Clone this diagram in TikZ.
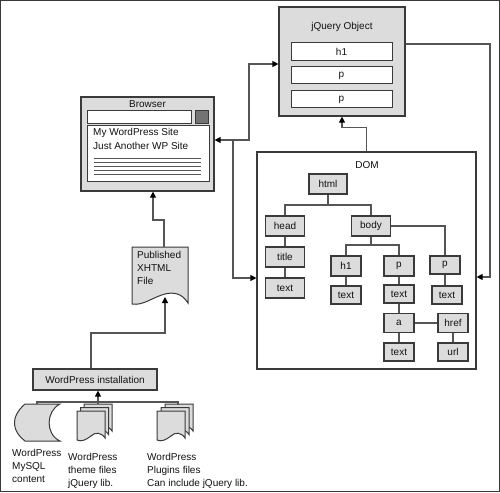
\documentclass[tikz,border=0pt]{standalone}
\usepackage{fontspec}
\setmainfont{Liberation Sans}
\usetikzlibrary{arrows.meta}
\definecolor{boxfill}{HTML}{DCDCDC}
\definecolor{edgec}{HTML}{3A3A3A}
\definecolor{linec}{HTML}{555555}
\definecolor{btnc}{HTML}{737373}
\definecolor{textc}{HTML}{111111}
\tikzset{
  conn/.style={draw=linec, line width=1.2pt},
  arr/.style={conn, -{Triangle[length=6pt,width=6pt,color=black]}},
  darr/.style={conn, {Triangle[length=6pt,width=6pt,color=black]}-{Triangle[length=6pt,width=6pt,color=black]}},
  bigbox/.style={draw=edgec, line width=1.2pt, inner sep=0pt},
  tnode/.style={draw=edgec, fill=boxfill, line width=1.4pt, inner sep=0pt, text=textc,
     font=\fontsize{10}{12}\selectfont, minimum width=#1},
  tnode/.default=30pt,
  txt/.style={inner sep=0pt, text=textc, font=\fontsize{10}{13}\selectfont},
  mltxt/.style={inner sep=0pt, text=textc, font=\fontsize{10}{13}\selectfont, align=left, anchor=north west},
  pics/wdoc/.style={code={
    \draw[draw=edgec, fill=boxfill, line width=1pt]
      (0,0) -- (28,0) -- (28,27) .. controls (24,21) and (18,21) .. (14,25)
      .. controls (9,29) and (4,31) .. (0,29) -- cycle;}},
}
\begin{document}
\begin{tikzpicture}[x=1pt,y=-1pt]
\useasboundingbox (0,0) rectangle (500,492);
\draw[draw=edgec, line width=1pt] (0.5,0.5) rectangle (499.5,491.5);

% ---------- Browser ----------
\node[bigbox, fill=boxfill, minimum width=133pt, minimum height=94pt] (browser) at (147.5,144) {};
\node[txt] (btitle) at (147.5,104) {Browser};
\node[draw=edgec, fill=white, line width=1pt, inner sep=0pt, minimum width=104pt, minimum height=12pt] (addr) at (139,117) {};
\node[draw=edgec, fill=btnc, line width=1pt, inner sep=0pt, minimum width=13pt, minimum height=12pt] (btn) at (201.5,117) {};
\node[draw=edgec, fill=white, line width=1pt, inner sep=0pt, minimum width=122pt, minimum height=56pt] (page) at (148,153) {};
\node[mltxt, font=\fontsize{10}{14}\selectfont] (ptext) at (93,128) {My WordPress Site\\Just Another WP Site};
\foreach \yy in {158,162,166,170,174}
  \draw[draw=linec, line width=1pt] (94,\yy) -- (201,\yy);

% ---------- jQuery object ----------
\node[bigbox, fill=boxfill, minimum width=126pt, minimum height=109pt] (jq) at (342,61.5) {};
\node[txt] (jqtitle) at (342,27) {jQuery Object};
\node[bigbox, fill=white, line width=1pt, minimum width=101pt, minimum height=18pt, text=textc, font=\fontsize{10}{12}\selectfont] (jqh1) at (341.5,52) {h1};
\node[bigbox, fill=white, line width=1pt, minimum width=101pt, minimum height=17pt, text=textc, font=\fontsize{10}{12}\selectfont] (jqp1) at (341.5,75.5) {p};
\node[bigbox, fill=white, line width=1pt, minimum width=101pt, minimum height=17pt, text=textc, font=\fontsize{10}{12}\selectfont] (jqp2) at (341.5,99.5) {p};

% ---------- DOM ----------
\node[bigbox, fill=white, minimum width=219pt, minimum height=217pt] (dom) at (366.5,260.5) {};
\node[txt] (domtitle) at (367,165) {DOM};
\node[tnode=38pt, minimum height=20pt] (html) at (328,184) {html};
\node[tnode=39pt, minimum height=20pt] (head) at (285,226) {head};
\node[tnode=39pt, minimum height=20pt] (body) at (371,226) {body};
\node[tnode=39pt, minimum height=20pt] (title) at (285,257) {title};
\node[tnode=39pt, minimum height=20pt] (htext) at (285,288) {text};
\node[tnode, minimum height=20pt] (h1) at (346,266) {h1};
\node[tnode, minimum height=20pt] (pm) at (399,266) {p};
\node[tnode, minimum height=18pt] (pr) at (445,265) {p};
\node[tnode, minimum height=18pt] (t1) at (346,295) {text};
\node[tnode, minimum height=18pt] (t2) at (399,294) {text};
\node[tnode, minimum height=18pt] (t3) at (447,295) {text};
\node[tnode, minimum height=19pt] (a) at (399,323) {a};
\node[tnode, minimum height=19pt] (href) at (453,323) {href};
\node[tnode, minimum height=18pt] (t4) at (399,352) {text};
\node[tnode, minimum height=18pt] (url) at (453,352) {url};

\coordinate (hj) at (328,205);
\coordinate (bj) at (371,245);
\draw[conn] (html.south) -- (hj);
\draw[conn] (head.north) |- (hj) -| (body.north);
\draw[conn] (head) -- (title);
\draw[conn] (title) -- (htext);
\draw[conn] (body.east) -| (pr.north);
\draw[conn] (body.south) -- (bj);
\draw[conn] (h1.north) |- (bj) -| (pm.north);
\draw[conn] (h1) -- (t1);
\draw[conn] (pm) -- (t2);
\draw[conn] (t2) -- (a);
\draw[conn] (a) -- (t4);
\draw[conn] (a) -- (href);
\draw[conn] (href) -- (url);
\draw[conn] (pr.south) -- (pr.south |- t3.north);

% ---------- main connectors ----------
\coordinate (j1) at (233,140);
\draw[darr] ([yshift=4pt]browser.east) -- (249,140) |- ([yshift=-2.5pt]jq.west);
\draw[arr] (j1) |- ([yshift=-17.5pt]dom.east -| dom.west);
\draw[arr] (dom.north) -- ++(0,-24) -| (jq.south);
\draw[arr] ([yshift=17.5pt]jq.east) -- (490,44) |- ([yshift=-16.5pt]dom.east);

% ---------- Published XHTML file ----------
\draw[draw=edgec, fill=boxfill, line width=1pt]
  (132,247) -- (188,247) -- (188,303) .. controls (182,293) and (173,292) .. (165,294)
  .. controls (153,297) and (143,306) .. (132,304) -- cycle;
\node[inner sep=0pt, minimum width=56pt, minimum height=47pt] (pub) at (160,270.5) {};
\node[mltxt] (pubtext) at (137,251.5) {Published\\XHTML\\File};
\draw[arr] ([xshift=4pt]pub.north) -- (164,220) -| ([xshift=5.5pt]browser.south);

% ---------- WordPress installation ----------
\node[bigbox, fill=boxfill, minimum width=124pt, minimum height=21pt, text=textc, font=\fontsize{10}{12}\selectfont] (inst) at (95,379.5) {WordPress installation};
\draw[arr] ([xshift=-4pt]inst.north) -- (91,333) -| (165,297);

% ---------- sources ----------
\draw[draw=edgec, fill=boxfill, line width=1pt]
  (25,404) -- (60,404) .. controls (46,411) and (45,434) .. (60,441)
  -- (25,441) .. controls (13,432) and (9,418) .. cycle;
\node[inner sep=0pt, minimum width=48pt, minimum height=37pt] (mysql) at (36,422.5) {};
\pic at (84,404) {wdoc};
\pic at (80.5,407.5) {wdoc};
\pic at (77,411) {wdoc};
\node[inner sep=0pt, minimum width=35pt, minimum height=37pt] (theme) at (94.5,422.5) {};
\pic at (165,404) {wdoc};
\pic at (161,407.5) {wdoc};
\pic at (157,411) {wdoc};
\node[inner sep=0pt, minimum width=36pt, minimum height=37pt] (plugins) at (175,422.5) {};

\coordinate (sj) at (98,402);
\draw[conn] ([xshift=1pt]mysql.north) -- (37,402) -- (178,402) -- (178,405);
\draw[arr] (theme.north -| sj) -- (inst.south -| sj);

\node[mltxt] (l1) at (12,449.5) {WordPress\\MySQL\\content};
\node[mltxt] (l2) at (68,453) {WordPress\\theme files\\jQuery lib.};
\node[mltxt] (l3) at (147,453) {WordPress\\Plugins files\\Can include jQuery lib.};
\end{tikzpicture}
\end{document}
